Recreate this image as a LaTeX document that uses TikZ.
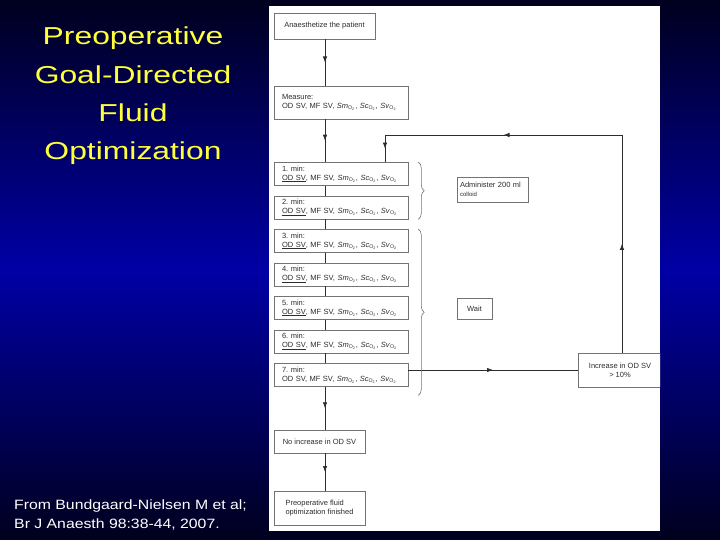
\documentclass[tikz,border=0pt]{standalone}
\usepackage{fontspec}
\setmainfont{Liberation Sans}
\usetikzlibrary{arrows.meta, positioning, decorations.pathreplacing, decorations.markings}

\definecolor{bgdark}{RGB}{0,0,30}
\definecolor{bgblue}{RGB}{0,0,165}
\definecolor{titleyellow}{RGB}{255,255,60}
\definecolor{inkgray}{RGB}{45,45,45}
\definecolor{boxgray}{RGB}{115,115,115}

\newcommand{\sat}[1]{\textit{S#1}\textsubscript{O\textsubscript{2}}}
\newcommand{\vals}[1]{#1, MF SV, \sat{m}, \sat{c}, \sat{v}}

\begin{document}
\begin{tikzpicture}[x=1pt, y=-1pt,
        box/.style={draw=boxgray, fill=white, line width=0.6pt, text=inkgray, font=\fontsize{7.5}{9}\selectfont, inner sep=0pt},
        stepbox/.style={box, minimum width=134pt, minimum height=23pt, text width=118pt, align=left},
        link/.style={draw=inkgray, line width=0.7pt},
        flow/.style={link, postaction={decorate}, decoration={markings, mark=at position 0.5 with {\arrow{Latex[length=6pt, width=4.5pt]}}}},
        curly/.style={draw=boxgray, line width=0.6pt, decorate, decoration={brace, amplitude=6pt}}
    ]
        % === Slide background ===
        \shade[top color=bgdark, bottom color=bgblue] (0,0) rectangle (720,270);
        \shade[top color=bgblue, bottom color=bgdark] (0,270) rectangle (720,540);
        \useasboundingbox (0,0) rectangle (720,540);

        \node[font=\fontsize{24.5}{38.3}\selectfont, text=titleyellow, align=center, xscale=1.3, inner sep=0pt] (title) at (133,96)
            {Preoperative\\Goal-Directed\\Fluid\\Optimization};
        \node[font=\fontsize{13.5}{19}\selectfont, text=white, align=left, anchor=west, xscale=1.17, inner sep=0pt] (source) at (14,515)
            {From Bundgaard-Nielsen M et al;\\Br J Anaesth 98:38-44, 2007.};

        % === Flow chart panel ===
        \fill[white] (269,6) rectangle (660,531);
        \begin{scope}
        \clip (269,6) rectangle (660,531);

        \node[box, minimum width=101pt, minimum height=26pt] (anaes) at (324.5,26) {Anaesthetize the patient};
        \node[stepbox, minimum height=33pt] (measure) at (341,102.5) {Measure:\\\vals{OD SV}};

        \node[stepbox] (min1) at (341,174.0) {1.\ min:\\\vals{\underline{OD SV}}};
        \node[stepbox] (min2) at (341,207.5) {2.\ min:\\\vals{\underline{OD SV}}};
        \node[stepbox] (min3) at (341,241.0) {3.\ min:\\\vals{\underline{OD SV}}};
        \node[stepbox] (min4) at (341,274.5) {4.\ min:\\\vals{\underline{OD SV}}};
        \node[stepbox] (min5) at (341,308.0) {5.\ min:\\\vals{\underline{OD SV}}};
        \node[stepbox] (min6) at (341,341.5) {6.\ min:\\\vals{\underline{OD SV}}};
        \node[stepbox] (min7) at (341,375.0) {7.\ min:\\\vals{OD SV}};

        \node[box, minimum width=91pt, minimum height=23pt] (noinc) at (319.5,441.5) {No increase in OD SV};
        \node[box, minimum width=91pt, minimum height=34pt, align=left] (finish) at (319.5,508)
            {Preoperative fluid\\optimization finished};

        \node[box, minimum width=71pt, minimum height=25pt, text width=65pt, align=left] (colloid) at (492.5,189.5)
            {Administer 200 ml\\{\fontsize{6}{7}\selectfont colloid}};
        \node[box, minimum width=35pt, minimum height=21pt] (wait) at (474.5,308.5) {Wait};
        \node[box, minimum width=84pt, minimum height=34pt, align=center] (incr) at (620,370)
            {Increase in OD SV\\> 10\%};

        % Main column
        \coordinate (spine) at (325,0);
        \draw[flow] (spine |- anaes.south) -- (spine |- measure.north);
        \draw[flow] (spine |- measure.south) -- (spine |- min1.north);
        \draw[link] (spine |- min1.south) -- (spine |- min2.north);
        \draw[link] (spine |- min2.south) -- (spine |- min3.north);
        \draw[link] (spine |- min3.south) -- (spine |- min4.north);
        \draw[link] (spine |- min4.south) -- (spine |- min5.north);
        \draw[link] (spine |- min5.south) -- (spine |- min6.north);
        \draw[link] (spine |- min6.south) -- (spine |- min7.north);
        \draw[flow] (spine |- min7.south) -- (spine |- noinc.north);
        \draw[flow] (spine |- noinc.south) -- (spine |- finish.north);

        % Loop back after an increase
        \coordinate (loopR) at (622,135);
        \coordinate (loopL) at (385,135);
        \draw[flow] (min7.east |- incr.west) -- (incr.west);
        \draw[flow] (loopR |- incr.north) -- (loopR);
        \draw[flow] (loopR) -- (loopL);
        \draw[flow] (loopL) -- (loopL |- min1.north);

        % Braces
        \draw[curly] ([xshift=10pt]min1.north east) -- ([xshift=10pt]min2.south east);
        \draw[curly] ([xshift=10pt]min3.north east) -- ([xshift=10pt, yshift=-8.5pt]min7.south east);
        \end{scope}

    \end{tikzpicture}
\end{document}
